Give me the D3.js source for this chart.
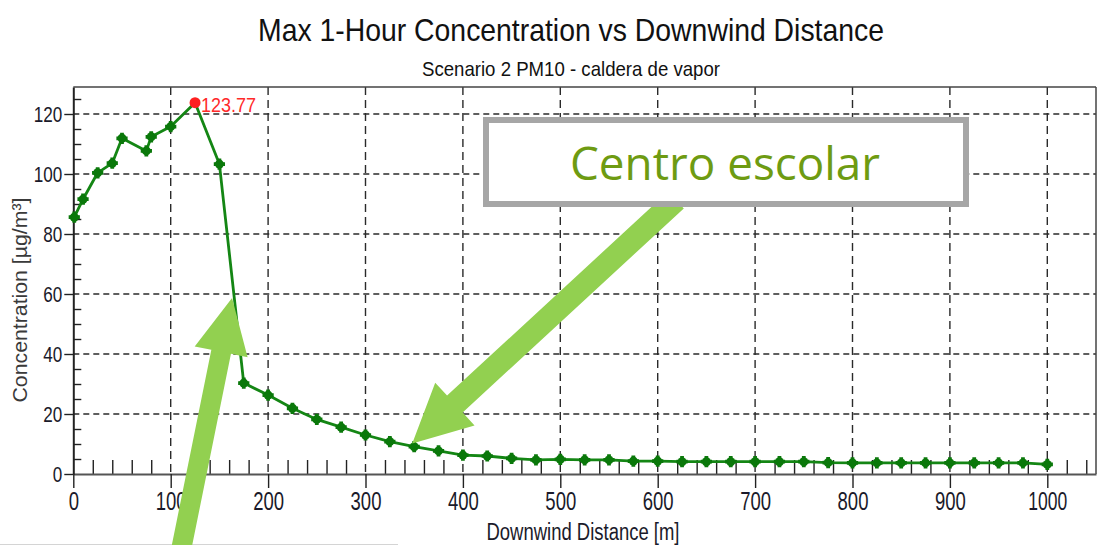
<!DOCTYPE html>
<html>
<head>
<meta charset="utf-8">
<script src="https://cdn.jsdelivr.net/npm/d3@7"></script>
<style>
  body { margin: 0; background: #fff; }
  svg { display: block; }
</style>
</head>
<body>
<script>
var w = 1115;
var h = 545;

// data
var distance = [1, 10, 25, 40, 50, 75, 80, 100, 125, 150,
    175, 200, 225, 250, 275, 300, 325, 350, 375, 400,
    425, 450, 475, 500, 525, 550, 575, 600, 625, 650,
    675, 700, 725, 750, 775, 800, 825, 850, 875, 900,
    925, 950, 975, 1000];
var concentration = [85.6, 91.6, 100.4, 103.6, 111.9, 107.7, 112.4, 115.8, 123.77, 103.3,
    30.3, 26.3, 21.9, 18.2, 15.6, 13.0, 10.8, 9.1, 7.7, 6.3,
    6.0, 5.2, 4.7, 4.9, 4.7, 4.7, 4.3, 4.3, 4.1, 4.1,
    4.1, 4.1, 4.1, 4.1, 3.8, 3.7, 3.7, 3.7, 3.7, 3.7,
    3.7, 3.7, 3.7, 3.2];
var xTicks = [0, 100, 200, 300, 400, 500, 600, 700, 800, 900, 1000];
var yTicks = [0, 20, 40, 60, 80, 100, 120];
var titleText = "Max 1-Hour Concentration vs Downwind Distance";
var subtitleText = "Scenario 2 PM10 - caldera de vapor";
var xLabel = "Downwind Distance [m]";
var yLabel = "Concentration [µg/m³]";
var calloutText = "Centro escolar";

var plotLeft = 73.3, plotRight = 1096, plotTop = 87, plotBottom = 474;

var x = d3.scaleLinear().domain([0, 1050]).range([plotLeft, plotRight]);
var y = d3.scaleLinear().domain([0, 129]).range([plotBottom, plotTop]);

var svg = d3.select("body")
    .append("svg")
    .attr("width", w)
    .attr("height", h);

var font = "'Liberation Sans', Arial, sans-serif";

// faint slide line at the bottom
svg.append("line").attr("x1", 0).attr("x2", 398).attr("y1", 544.5).attr("y2", 544.5)
    .attr("stroke", "#d4d4d4").attr("stroke-width", 1);

// titles
svg.append("text")
    .attr("x", 571).attr("y", 41)
    .attr("text-anchor", "middle")
    .attr("textLength", 626).attr("lengthAdjust", "spacingAndGlyphs")
    .style("font-family", font).style("font-size", "32px").attr("fill", "#111")
    .text(titleText);
svg.append("text")
    .attr("x", 571).attr("y", 76)
    .attr("text-anchor", "middle")
    .attr("textLength", 298).attr("lengthAdjust", "spacingAndGlyphs")
    .style("font-family", font).style("font-size", "21px").attr("fill", "#111")
    .text(subtitleText);

// grid
var grid = svg.append("g");
grid.selectAll("line.v")
    .data(xTicks.filter(function (d) { return d > 0; }))
    .enter().append("line")
    .attr("x1", function (d) { return x(d); })
    .attr("x2", function (d) { return x(d); })
    .attr("y1", plotTop).attr("y2", plotBottom)
    .attr("stroke", "#2a2a2a").attr("stroke-width", 1.4)
    .attr("stroke-dasharray", "8,5");
grid.selectAll("line.h")
    .data(yTicks.filter(function (d) { return d > 0; }))
    .enter().append("line")
    .attr("x1", plotLeft).attr("x2", plotRight)
    .attr("y1", function (d) { return y(d); })
    .attr("y2", function (d) { return y(d); })
    .attr("stroke", "#2a2a2a").attr("stroke-width", 1.4)
    .attr("stroke-dasharray", "6,4");

// frame
svg.append("line").attr("x1", plotLeft).attr("x2", plotRight).attr("y1", plotTop).attr("y2", plotTop)
    .attr("stroke", "#444").attr("stroke-width", 1.5);
svg.append("line").attr("x1", plotRight).attr("x2", plotRight).attr("y1", plotTop).attr("y2", plotBottom)
    .attr("stroke", "#444").attr("stroke-width", 1.5);

// minor ticks
var xMinor = d3.range(20, 1050, 20).filter(function (d) { return d % 100 !== 0; });
var yMinor = d3.range(5, 129, 5).filter(function (d) { return d % 20 !== 0; });

svg.append("g")
    .attr("transform", "translate(0," + plotBottom + ")")
    .call(d3.axisBottom(x).tickValues(xMinor).tickSize(-14).tickFormat(""))
    .call(function (g) {
        g.select(".domain").remove();
        g.selectAll("line").attr("stroke", "#222").attr("stroke-width", 1.4);
    });
svg.append("g")
    .attr("transform", "translate(" + plotLeft + ",0)")
    .call(d3.axisLeft(y).tickValues(yMinor).tickSize(-8).tickFormat(""))
    .call(function (g) {
        g.select(".domain").remove();
        g.selectAll("line").attr("stroke", "#222").attr("stroke-width", 1.4);
    });

// major axes
svg.append("g")
    .attr("transform", "translate(0," + plotBottom + ")")
    .call(d3.axisBottom(x).tickValues(xTicks).tickFormat(d3.format("d"))
        .tickSize(14).tickSizeOuter(0).tickPadding(4))
    .call(function (g) {
        g.select(".domain").attr("stroke", "#555").attr("stroke-width", 2);
        g.selectAll("line").attr("stroke", "#222").attr("stroke-width", 1.4);
        g.selectAll("text")
            .style("font-family", font).style("font-size", "26px").attr("fill", "#1a1a2a")
            .attr("textLength", function (d) { return String(d).length === 4 ? 39 : String(d).length * 10.3; })
            .attr("lengthAdjust", "spacingAndGlyphs");
    });
svg.append("g")
    .attr("transform", "translate(" + plotLeft + ",0)")
    .call(d3.axisLeft(y).tickValues(yTicks).tickSize(9).tickSizeOuter(0).tickPadding(2))
    .call(function (g) {
        g.select(".domain").attr("stroke", "#222").attr("stroke-width", 2);
        g.selectAll("line").attr("stroke", "#222").attr("stroke-width", 1.4);
        g.selectAll("text")
            .style("font-family", font).style("font-size", "22px").attr("fill", "#1a1a2a")
            .attr("textLength", function (d) { return String(d).length * 9.5; })
            .attr("lengthAdjust", "spacingAndGlyphs");
    });

// axis titles
svg.append("text")
    .attr("x", 583).attr("y", 540)
    .attr("text-anchor", "middle")
    .attr("textLength", 193).attr("lengthAdjust", "spacingAndGlyphs")
    .style("font-family", font).style("font-size", "23px").attr("fill", "#1a1a2a")
    .text(xLabel);
svg.append("text")
    .attr("transform", "translate(27,300) rotate(-90)")
    .attr("text-anchor", "middle")
    .attr("textLength", 205).attr("lengthAdjust", "spacingAndGlyphs")
    .style("font-family", font).style("font-size", "20px").attr("fill", "#3a3a3a")
    .text(yLabel);

// series
var points = distance.map(function (d, i) { return [d, concentration[i]]; });
var line = d3.line()
    .x(function (d) { return x(d[0]); })
    .y(function (d) { return y(d[1]); });

svg.append("path")
    .datum(points)
    .attr("d", line)
    .attr("fill", "none")
    .attr("stroke", "#148614")
    .attr("stroke-width", 2.8)
    .attr("stroke-linejoin", "round");

var peakIndex = d3.maxIndex(concentration);
var others = points.filter(function (d, i) { return i !== peakIndex; });
var marks = svg.append("g");
marks.selectAll("circle")
    .data(others)
    .enter().append("circle")
    .attr("cx", function (d) { return x(d[0]); })
    .attr("cy", function (d) { return y(d[1]); })
    .attr("r", 4.5)
    .attr("fill", "#0a780a");
marks.selectAll("path")
    .data(others)
    .enter().append("path")
    .attr("d", d3.symbol(d3.symbolCross, 70))
    .attr("transform", function (d) { return "translate(" + x(d[0]) + "," + y(d[1]) + ")"; })
    .attr("fill", "#0a780a");

var peak = points[peakIndex];
svg.append("circle")
    .attr("cx", x(peak[0])).attr("cy", y(peak[1]))
    .attr("r", 5.5).attr("fill", "#ff2020");
svg.append("text")
    .attr("x", x(peak[0]) + 6).attr("y", y(peak[1]) + 9)
    .attr("textLength", 55).attr("lengthAdjust", "spacingAndGlyphs")
    .style("font-family", font).style("font-size", "21px").attr("fill", "#ff2a2a")
    .text(peak[1].toFixed(2));

// callout arrows
function arrow(tail, tip, sw, hl, hw) {
    var dx = tip[0] - tail[0], dy = tip[1] - tail[1];
    var len = Math.sqrt(dx * dx + dy * dy);
    var ux = dx / len, uy = dy / len;
    var nx = -uy, ny = ux;
    var bx = tip[0] - ux * hl, by = tip[1] - uy * hl;
    var pts = [
        [tail[0] + nx * sw, tail[1] + ny * sw],
        [bx + nx * sw, by + ny * sw],
        [bx + nx * hw, by + ny * hw],
        tip,
        [bx - nx * hw, by - ny * hw],
        [bx - nx * sw, by - ny * sw],
        [tail[0] - nx * sw, tail[1] - ny * sw]
    ];
    return "M" + pts.map(function (p) { return p[0] + "," + p[1]; }).join("L") + "Z";
}
var arrowGreen = "#92d050";

// arrow from the box to the school receptor
svg.append("path")
    .attr("d", arrow([676, 200], [x(348), y(10.2)], 11.5, 58, 29))
    .attr("fill", arrowGreen);

// callout box
svg.append("rect")
    .attr("x", 486).attr("y", 120).attr("width", 480).attr("height", 84)
    .attr("fill", "#fff").attr("stroke", "#a6a6a6").attr("stroke-width", 6);
svg.append("text")
    .attr("x", 725).attr("y", 180)
    .attr("text-anchor", "middle")
    .attr("textLength", 310).attr("lengthAdjust", "spacingAndGlyphs")
    .style("font-family", "'Open Sans', 'Noto Sans', sans-serif").style("font-size", "46px")
    .attr("fill", "#6e9b12")
    .text(calloutText);

// arrow from below pointing at the steep drop
svg.append("path")
    .attr("d", arrow([179, 560], [x(163), y(58.7)], 10, 55, 27))
    .attr("fill", arrowGreen);
</script>
</body>
</html>
